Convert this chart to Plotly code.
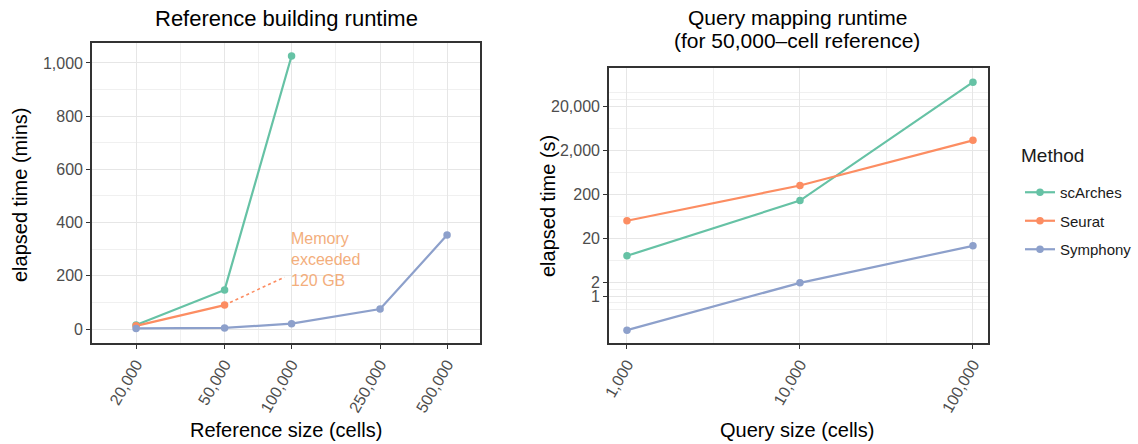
import math
import plotly.graph_objects as go

# ---- data: reference building runtime (minutes) ----
ref_sizes = [20000, 50000, 100000, 250000, 500000]
ref_scarches = [15, 147, 1026]
ref_seurat = [12, 90]
ref_symphony = [2, 4, 20, 75, 353]
# Seurat run that ran out of memory (dotted continuation)
seurat_oom_x = [50000, 93000]
seurat_oom_y = [90, 195]
oom_label = "Memory<br>exceeded<br>120 GB"
oom_label_pos = (97000, 262)

# ---- data: query mapping runtime (seconds) ----
query_sizes = [1000, 10000, 100000]
q_scarches = [8.2, 146, 70000]
q_seurat = [51, 320, 3370]
q_symphony = [0.17, 2.0, 13.8]

ref_ticks = [20000, 50000, 100000, 250000, 500000]
ref_ticktext = ["20,000", "50,000", "100,000", "250,000", "500,000"]
ref_yticks = [0, 200, 400, 600, 800, 1000]
ref_yticktext = ["0", "200", "400", "600", "800", "1,000"]
q_xticks = [1000, 10000, 100000]
q_xticktext = ["1,000", "10,000", "100,000"]
q_yticks = [1, 2, 20, 200, 2000, 20000]
q_yticktext = ["1", "2", "20", "200", "2,000", "20,000"]

COLORS = {"scArches": "#66C2A5", "Seurat": "#FC8D62", "Symphony": "#8DA0CB"}
FONT = "Liberation Sans, Arial, sans-serif"
W, H = 1138, 444

fig = go.Figure()


def add_series(x, y, name, xa, ya, show):
    fig.add_trace(go.Scatter(
        x=x, y=y, name=name, mode="lines+markers",
        line=dict(color=COLORS[name], width=2.2),
        marker=dict(color=COLORS[name], size=7.5),
        xaxis=xa, yaxis=ya, showlegend=show, legendgroup=name,
    ))


# left panel
add_series(ref_sizes[:len(ref_scarches)], ref_scarches, "scArches", "x", "y", False)
add_series(ref_sizes[:len(ref_seurat)], ref_seurat, "Seurat", "x", "y", False)
add_series(ref_sizes, ref_symphony, "Symphony", "x", "y", False)
fig.add_trace(go.Scatter(
    x=seurat_oom_x, y=seurat_oom_y, mode="lines",
    line=dict(color=COLORS["Seurat"], width=1.6, dash="dot"),
    xaxis="x", yaxis="y", showlegend=False, hoverinfo="skip",
))

# right panel
add_series(query_sizes, q_scarches, "scArches", "x2", "y2", True)
add_series(query_sizes, q_seurat, "Seurat", "x2", "y2", True)
add_series(query_sizes, q_symphony, "Symphony", "x2", "y2", True)

# annotations on a log axis take log10 positions
fig.add_annotation(
    x=math.log10(oom_label_pos[0]), y=oom_label_pos[1], xref="x", yref="y",
    text=oom_label, showarrow=False, xanchor="left", yanchor="middle", align="left",
    font=dict(family=FONT, size=16, color="#F3AE7C"),
)

GRID = "#E6E6E6"
MINOR = "#F0F0F0"
BORDER = "#333333"
TICKFONT = dict(family=FONT, size=16, color="#4D4D4D")


def axis_style(**kw):
    base = dict(
        showline=True, mirror=True, linecolor=BORDER, linewidth=1.6,
        ticks="outside", ticklen=4, tickwidth=1.4, tickcolor=BORDER,
        tickfont=TICKFONT, showgrid=True, gridcolor=GRID, gridwidth=1,
        zeroline=False, tickmode="array", automargin=False,
    )
    base.update(kw)
    return base


bottom = (H - 343) / H
fig.update_layout(
    width=W, height=H, autosize=False,
    margin=dict(l=0, r=0, t=0, b=0),
    paper_bgcolor="white", plot_bgcolor="white",
    font=dict(family=FONT, color="black"),
    showlegend=True,
    legend=dict(
        font=dict(family=FONT, size=15, color="#1A1A1A"),
        x=1020 / W, y=(H - 176) / H, xanchor="left", yanchor="top",
        tracegroupgap=6, itemwidth=30, bgcolor="rgba(0,0,0,0)",
    ),
    xaxis=axis_style(
        type="log", domain=[92 / W, 480 / W], anchor="y",
        range=[4.103, 5.847], tickvals=ref_ticks, ticktext=ref_ticktext,
        tickangle=-60,
        minor=dict(showgrid=True, gridcolor=MINOR, gridwidth=1,
                   tickvals=[31623, 70711, 158114, 353553], ticks=""),
    ),
    yaxis=axis_style(
        domain=[bottom, (H - 43) / H], anchor="x",
        range=[-52.6, 1075], tickvals=ref_yticks, ticktext=ref_yticktext,
        minor=dict(showgrid=True, gridcolor=MINOR, gridwidth=1,
                   tickvals=[100, 300, 500, 700, 900], ticks=""),
    ),
    xaxis2=axis_style(
        type="log", domain=[609 / W, 988 / W], anchor="y2",
        range=[2.896, 5.087], tickvals=q_xticks, ticktext=q_xticktext,
        tickangle=-60,
        minor=dict(showgrid=True, gridcolor=MINOR, gridwidth=1,
                   tickvals=[3162, 31623], ticks=""),
    ),
    yaxis2=axis_style(
        type="log", domain=[bottom, (H - 68) / H], anchor="x2",
        range=[-1.06, 5.165], tickvals=q_yticks, ticktext=q_yticktext,
        minor=dict(showgrid=True, gridcolor=MINOR, gridwidth=1,
                   tickvals=[0.5, 0.708, 1.414, 6.32, 63.2, 632, 6325, 28184, 40000],
                   ticks=""),
    ),
)


# titles and axis titles
def text(x, y, s, size, angle=0, color="black", anchor="center"):
    fig.add_annotation(
        x=x / W, y=(H - y) / H, xref="paper", yref="paper", text=s,
        showarrow=False, textangle=angle, xanchor=anchor, yanchor="middle",
        font=dict(family=FONT, size=size, color=color),
    )


text(286, 18, "Reference building runtime", 22)
text(797, 17, "Query mapping runtime", 21)
text(797, 41, "(for 50,000\u2013cell reference)", 21)
text(286, 430, "Reference size (cells)", 20)
text(797, 430, "Query size (cells)", 20)
text(20, 195, "elapsed time (mins)", 20, angle=-90)
text(548, 206, "elapsed time (s)", 20, angle=-90)
text(1019, 155, "Method", 19, color="#1A1A1A", anchor="left")

fig.write_html("out.html")
